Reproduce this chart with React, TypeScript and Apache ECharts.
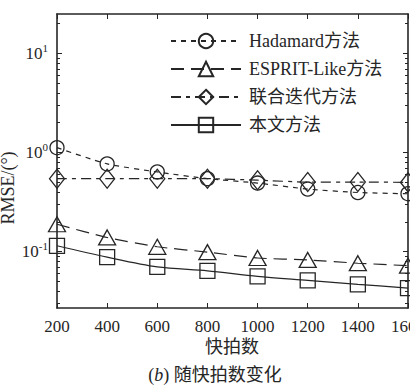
import React, { useEffect, useRef } from 'react';
import * as echarts from 'echarts';

const snapshots = [200, 400, 600, 800, 1000, 1200, 1400, 1600];
const hadamard = [1.12, 0.768, 0.637, 0.545, 0.492, 0.428, 0.395, 0.384];
const esprit = [0.189, 0.139, 0.112, 0.0989, 0.0863, 0.0824, 0.0764, 0.0722];
const joint = [0.545, 0.545, 0.545, 0.545, 0.526, 0.504, 0.504, 0.5];
const proposed = [0.1146, 0.0879, 0.0701, 0.0641, 0.0564, 0.0514, 0.0468, 0.0429];
const seriesNames = ['Hadamard方法', 'ESPRIT-Like方法', '联合迭代方法', '本文方法'];
const yMajorTicks = [0.1, 1, 10];
const yMinorTicks = [0.03, 0.04, 0.05, 0.06, 0.07, 0.08, 0.09, 0.2, 0.3, 0.4, 0.5, 0.6, 0.7, 0.8, 0.9, 2, 3, 4, 5, 6, 7, 8, 9, 20];
const yRange = [0.027, 25];
const xRange = [200, 1600];
const xStep = 200;
const yAxisTitle = 'RMSE/(°)';
const xAxisTitle = '快拍数';
const caption = '{n|(}{i|b}{n|) 随快拍数变化}';

const INK = '#262626';
const FONT = 'Liberation Serif, Noto Sans CJK SC, serif';

export default function App() {
  const ref = useRef<HTMLDivElement>(null);
  useEffect(() => {
    document.body.style.margin = '0';
    const chart = echarts.init(ref.current!, undefined, { renderer: 'svg' });
    const dataOf = (arr: number[]) => snapshots.map((x, i) => [x, arr[i]]);
    const markerStyle = { color: 'rgba(0,0,0,0)', borderColor: INK, borderWidth: 1.3 };
    const mkSeries = (name: string, arr: number[], symbol: string, size: any, dash: any, smooth: number) => ({
      name,
      type: 'line',
      data: dataOf(arr),
      symbol,
      symbolSize: size,
      smooth,
      showAllSymbol: true,
      lineStyle: { color: INK, width: 1.2, type: dash },
      itemStyle: markerStyle,
      emphasis: { disabled: true },
      z: 3,
    });
    const yBase = (position: string, ticks: number[], len: number, showLine: boolean, showLabel: boolean) => ({
      type: 'log',
      logBase: 10,
      position,
      min: yRange[0],
      max: yRange[1],
      axisLine: { show: showLine, lineStyle: { color: INK, width: 1.6 } },
      axisTick: { show: true, inside: true, length: len, customValues: ticks, lineStyle: { color: INK, width: 1 } },
      axisLabel: showLabel
        ? {
            show: true,
            customValues: ticks,
            margin: 9,
            formatter: (v: number) => `{b|10}{s|${Math.round(Math.log10(v))}}`,
            rich: {
              b: { fontSize: 17, fontFamily: FONT, color: INK, lineHeight: 22 },
              s: { fontSize: 11, fontFamily: FONT, color: INK, verticalAlign: 'top' },
            },
          }
        : { show: false },
      splitLine: { show: false },
      minorTick: { show: false },
    });
    const xBase = (position: string, showLabel: boolean) => ({
      type: 'value',
      position,
      min: xRange[0],
      max: xRange[1],
      interval: xStep,
      axisLine: { show: true, lineStyle: { color: INK, width: 1.6 } },
      axisTick: { show: true, inside: true, length: 5, lineStyle: { color: INK, width: 1 } },
      axisLabel: showLabel
        ? {
            show: true,
            margin: 10,
            fontSize: 17,
            fontFamily: FONT,
            color: INK,
            formatter: (v: number) => `{t|${v}}`,
            rich: { t: { fontSize: 17, fontFamily: FONT, color: INK } },
          }
        : { show: false },
      splitLine: { show: false },
    });
    chart.setOption({
      animation: false,
      backgroundColor: '#fff',
      textStyle: { fontFamily: FONT, color: INK },
      grid: { left: 57, top: 14, right: 2, bottom: 77, containLabel: false, outerBoundsMode: 'none' },
      xAxis: [xBase('bottom', true), xBase('top', false)],
      yAxis: [
        yBase('left', yMajorTicks, 5, true, true),
        yBase('left', yMinorTicks, 3, false, false),
        yBase('right', yMajorTicks, 5, true, false),
        yBase('right', yMinorTicks, 3, false, false),
      ],
      legend: {
        orient: 'vertical',
        left: 170,
        top: 32,
        padding: 0,
        itemWidth: 70,
        itemHeight: 18,
        itemGap: 10,
        selectedMode: false,
        formatter: (name: string) => `{t|${name}}`,
        textStyle: {
          fontFamily: FONT,
          fontSize: 18,
          color: INK,
          padding: [0, 0, 0, 3],
          rich: { t: { fontSize: 18, fontFamily: FONT, color: INK } },
        },
        data: seriesNames,
      },
      series: [
        mkSeries(seriesNames[0], hadamard, 'circle', 14, [5, 5], 0.2),
        mkSeries(seriesNames[1], esprit, 'triangle', [17, 15], [13, 7], 0.2),
        mkSeries(seriesNames[2], joint, 'diamond', [15, 19], [10, 5, 4, 5], 0.2),
        mkSeries(seriesNames[3], proposed, 'rect', [15, 15], 'solid', 0.3),
      ],
      graphic: [
        {
          type: 'text',
          x: 8,
          y: 188,
          rotation: Math.PI / 2,
          style: { text: yAxisTitle, fontSize: 18, fontFamily: FONT, fill: INK, align: 'center', verticalAlign: 'middle' },
        },
        {
          type: 'text',
          x: 232,
          y: 347,
          style: { text: xAxisTitle, fontSize: 18, fontFamily: FONT, fill: INK, align: 'center', verticalAlign: 'middle' },
        },
        {
          type: 'text',
          x: 215,
          y: 375,
          style: {
            text: caption,
            fontSize: 18,
            fontFamily: FONT,
            fill: INK,
            align: 'center',
            verticalAlign: 'middle',
            rich: {
              n: { fontSize: 18, fontFamily: FONT, fill: INK },
              i: { fontSize: 18, fontFamily: FONT, fontStyle: 'italic', fill: INK },
            },
          },
        },
      ],
    });
    return () => chart.dispose();
  }, []);
  return <div ref={ref} style={{ width: 410, height: 385, overflow: 'hidden' }} />;
}
